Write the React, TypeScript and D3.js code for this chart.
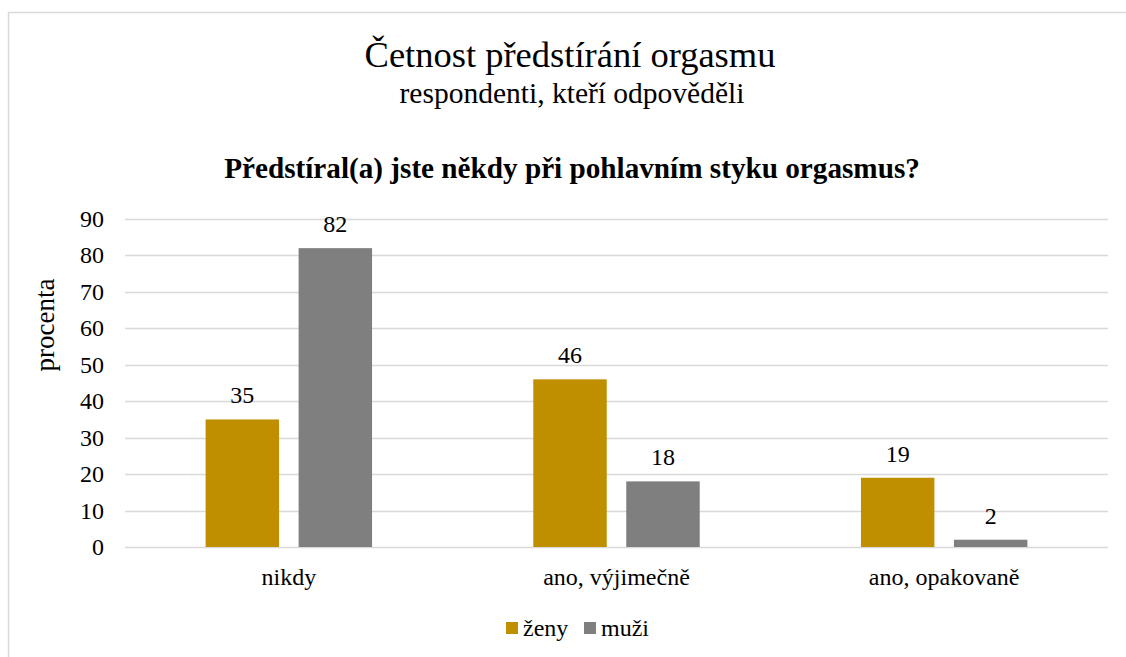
import { useEffect, useRef } from 'react';
import * as d3 from 'd3';

const categories = ['nikdy', 'ano, výjimečně', 'ano, opakovaně'];
const seriesNames = ['ženy', 'muži'];
const zeny = [35, 46, 19];
const muzi = [82, 18, 2];
const yTicks = [0, 10, 20, 30, 40, 50, 60, 70, 80, 90];

const colors: Record<string, string> = { 'ženy': '#BF8F00', 'muži': '#7F7F7F' };
const FONT = 'Liberation Serif, Times New Roman, serif';

const App = () => {
  const svgRef = useRef<SVGSVGElement>(null);

  useEffect(() => {
    const width = 1126;
    const height = 657;
    const svg = d3.select(svgRef.current);
    svg.selectAll('*').remove();
    svg.attr('width', width).attr('height', height);

    const addText = (
      parent: d3.Selection<any, any, any, any>,
      x: number, y: number, str: string | number, size: number,
      anchor = 'middle', bold = false, rotate = 0
    ) => parent.append('text')
      .attr('transform', `translate(${x},${y})${rotate ? ` rotate(${rotate})` : ''}`)
      .attr('text-anchor', anchor)
      .style('font-family', FONT)
      .style('font-size', `${size}px`)
      .style('font-weight', bold ? 'bold' : 'normal')
      .attr('fill', '#000')
      .text(str);

    // chart frame (cut off at right and bottom like the screenshot)
    svg.append('rect')
      .attr('x', 8.5).attr('y', 12.5)
      .attr('width', 1140).attr('height', 670)
      .attr('fill', '#fff')
      .attr('stroke', '#d9d9d9')
      .attr('stroke-width', 1.5);

    const plot = { left: 125, right: 1108, top: 219, bottom: 547 };

    const x0 = d3.scaleBand().domain(categories).range([plot.left, plot.right]);
    const x1 = d3.scaleBand().domain(seriesNames).range([0, x0.bandwidth()])
      .paddingInner(0.21).paddingOuter(0.867);
    const y = d3.scaleLinear().domain([0, 90]).range([plot.bottom, plot.top]);

    // titles
    addText(svg, 570, 67, 'Četnost předstírání orgasmu', 36.5);
    addText(svg, 572, 103, 'respondenti, kteří odpověděli', 29.5);
    addText(svg, 572, 178, 'Předstíral(a) jste někdy při pohlavním styku orgasmus?', 29.2, 'middle', true);

    // grid lines
    svg.append('g')
      .selectAll('line')
      .data(yTicks)
      .enter()
      .append('line')
      .attr('x1', plot.left).attr('x2', plot.right)
      .attr('y1', d => Math.round(y(d)) + 0.5).attr('y2', d => Math.round(y(d)) + 0.5)
      .attr('stroke', '#d9d9d9')
      .attr('stroke-width', 1.3);

    // y tick labels
    const tickG = svg.append('g');
    yTicks.forEach(t => addText(tickG, 104, y(t) + 8, t, 24, 'end'));

    // y axis title
    addText(svg, 54, (278 + 372) / 2, 'procenta', 27, 'middle', false, -90);

    // bars
    const rows = categories.map((c, i) => ({ cat: c, values: [zeny[i], muzi[i]] }));
    const groups = svg.append('g')
      .selectAll('g')
      .data(rows)
      .enter()
      .append('g')
      .attr('transform', d => `translate(${x0(d.cat)},0)`);

    groups.selectAll('rect')
      .data(d => d.values.map((v, j) => ({ name: seriesNames[j], v })))
      .enter()
      .append('rect')
      .attr('x', d => x1(d.name) || 0)
      .attr('y', d => y(d.v))
      .attr('width', x1.bandwidth())
      .attr('height', d => plot.bottom - y(d.v))
      .attr('fill', d => colors[d.name]);

    // value labels
    groups.each(function (d) {
      const g = d3.select(this);
      d.values.forEach((v, j) => {
        addText(g, (x1(seriesNames[j]) || 0) + x1.bandwidth() / 2, y(v) - 16, v, 24);
      });
    });

    // category labels
    const catG = svg.append('g');
    categories.forEach(c => addText(catG, (x0(c) || 0) + x0.bandwidth() / 2, 585, c, 24));

    // legend
    const legendX = [506, 584];
    seriesNames.forEach((s, i) => {
      svg.append('rect')
        .attr('x', legendX[i]).attr('y', 622)
        .attr('width', 12).attr('height', 12)
        .attr('fill', colors[s]);
      addText(svg, legendX[i] + 17, 636, s, 24, 'start');
    });
  }, []);

  return (
    <svg ref={svgRef} style={{ position: 'absolute', left: 0, top: 0 }}></svg>
  );
};

export default App;
